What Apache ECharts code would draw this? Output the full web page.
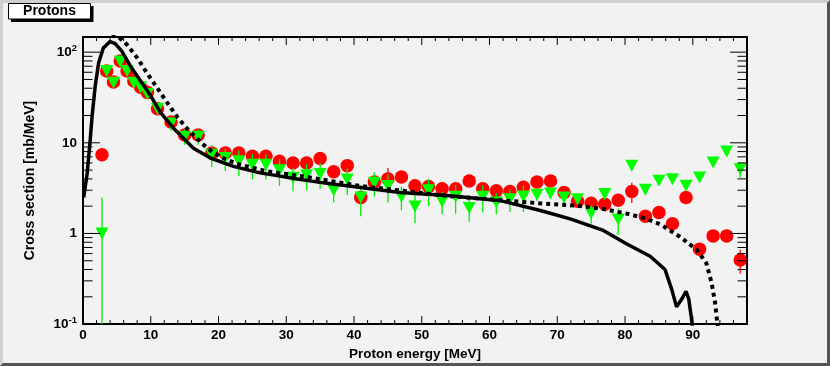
<!DOCTYPE html>
<html>
<head>
<meta charset="utf-8">
<script src="https://cdn.jsdelivr.net/npm/echarts@6.0.0/dist/echarts.min.js"></script>
<style>
  html, body { margin: 0; padding: 0; background: #f2f2f2; }
  #chart { width: 830px; height: 366px; }
</style>
</head>
<body>
<div id="chart"></div>
<script>
// energies of the measured points [MeV]
const pointX = [2.8, 3.5, 4.5, 5.5, 6.5, 7.5, 8.5, 9.5, 11, 13, 15, 17, 19, 21, 23, 25, 27, 29, 31, 33,
  35, 37, 39, 41, 43, 45, 47, 49, 51, 53, 55, 57, 59, 61, 63, 65, 67, 69, 71, 73,
  75, 77, 79, 81, 83, 85, 87, 89, 91, 93, 95, 97]

// red circles
const redY = [7.4, 62, 47, 80, 62, 48, 41, 36, 23.7, 17, 12.2, 12.2, 7.7, 7.7, 7.7, 7.1, 7.1, 6.25, 6.0, 6.0,
  6.7, 4.8, 5.6, 2.5, 3.7, 4.0, 4.2, 3.35, 3.3, 3.12, 3.12, 3.8, 3.12, 2.95, 2.9, 3.23, 3.7, 3.8, 2.83, 2.27,
  2.15, 2.1, 2.33, 2.9, 1.55, 1.7, 1.28, 2.49, 0.67, 0.94, 0.94, 0.51]
// visible red error bars
const redErrX = [45, 81, 97]
const redErrLow = [2.75, 2.17, 0.36]
const redErrHigh = [5.28, 3.63, 0.66]

// green triangles
const greenY = [1.0, 62, 46, 79, 62, 46, 41, 34.5, 23.7, 16.3, 11.7, 11.7, 7.4, 6.8, 6.25, 5.74, 5.74, 4.99, 4.11, 4.4,
  4.54, 2.99, 3.94, 2.49, 3.63, 3.34, 2.54, 1.98, 2.99, 2.25, 2.54, 1.91, 2.54, 2.2, 2.39, 2.56, 2.67, 2.76, 2.49, 2.39,
  1.67, 2.72, 1.43, 5.6, 3.03, 3.82, 3.97, 3.37, 4.15, 6.06, 8.0, 5.1]
const greenLow = [0.1, 55, 41, 71, 56, 41, 36, 30, 20, 13.5, 9.5, 9.5, 5.4, 4.9, 4.3, 3.95, 3.95, 3.35, 2.9, 3.0,
  3.1, 2.2, 2.65, 1.55, 2.55, 2.2, 1.8, 1.3, 2.0, 1.63, 1.65, 1.35, 1.7, 1.63, 1.72, 1.72, 2.3, 2.4, 2.15, 2.1,
  1.28, 2.35, 0.97, 5.0, 2.7, 3.4, 3.55, 3.0, 3.7, 5.4, 7.1, 4.14]
const greenHigh = [2.5, 69, 51, 87, 68, 51, 46, 39, 27.5, 19, 14, 14, 9.4, 8.7, 8.2, 7.5, 7.5, 6.6, 5.3, 5.8,
  6.0, 3.8, 5.2, 3.4, 4.7, 4.5, 3.3, 2.66, 4.0, 2.87, 3.4, 2.47, 3.4, 2.77, 3.06, 3.4, 3.05, 3.1, 2.85, 2.7,
  2.06, 3.1, 1.89, 6.2, 3.35, 4.25, 4.4, 3.75, 4.6, 6.7, 8.9, 6.06]

// solid calculation
const solidX = [0.1, 0.6, 1.0, 1.35, 1.8, 2.3, 3.0, 4.0, 4.75, 5.75, 7.0, 8.5, 10, 11.4, 13.4, 16.3, 18.8, 22.2,
  26.1, 29.1, 31.1, 36, 46.8, 54.2, 61.6, 67.5, 71.9, 76.8, 80.2, 83.7, 85.9, 86.9, 87.6, 88.4, 89.0, 89.4, 90.0]
const solidY = [2.5, 4.5, 9.5, 20, 42, 76, 111, 131, 124, 102, 70, 48, 33, 21.8, 14.4, 8.7, 6.8, 5.5,
  4.66, 4.29, 4.04, 3.57, 2.83, 2.6, 2.3, 1.79, 1.45, 1.08, 0.77, 0.56, 0.4, 0.24, 0.155, 0.19, 0.23, 0.19, 0.09]

// dotted calculation
const dotX = [4.2, 5.2, 6.0, 6.5, 8.0, 9.4, 10.9, 12.4, 13.9, 15.8, 17.8, 19.3, 21.2, 23.2, 27.1, 33, 40.9, 45.3,
  53.7, 67.4, 72.9, 76.8, 80.5, 83.2, 85.2, 88.1, 90.6, 92.0, 92.8, 93.3, 93.7]
const dotY = [152, 148, 131, 121, 86.5, 59.4, 40.8, 28, 19.3, 13.2, 9.5, 7.7, 6.5, 5.74, 4.86, 4.2, 3.34, 3.07,
  2.6, 2.15, 2.03, 1.86, 1.64, 1.45, 1.26, 0.92, 0.66, 0.47, 0.28, 0.17, 0.09]

// axis ticks
const xMajorTicks = [0, 10, 20, 30, 40, 50, 60, 70, 80, 90]
const xMinorTicks = [2, 4, 6, 8, 12, 14, 16, 18, 22, 24, 26, 28, 32, 34, 36, 38, 42, 44, 46, 48,
  52, 54, 56, 58, 62, 64, 66, 68, 72, 74, 76, 78, 82, 84, 86, 88, 92, 94, 96]
const yMajorTicks = [0.1, 1, 10, 100]
const yMinorTicks = [0.2, 0.3, 0.4, 0.5, 0.6, 0.7, 0.8, 0.9, 2, 3, 4, 5, 6, 7, 8, 9,
  20, 30, 40, 50, 60, 70, 80, 90]

const FONT = '"Liberation Sans", Arial, Helvetica, sans-serif'

function zip(xs, ys) {
  return xs.map((x, i) => [x, ys[i]])
}

function seg(x1, y1, x2, y2, color, w) {
  return { type: 'line', shape: { x1, y1, x2, y2 }, style: { stroke: color, lineWidth: w } }
}

// ROOT style ticks on all four sides of the frame
function tickSeries(values, dir, lenA, lenB) {
  return {
    type: 'custom',
    silent: true,
    z: 10,
    data: values.map(v => (dir === 'x' ? [v, 1] : [1, v])),
    renderItem: function (params, api) {
      const cs = params.coordSys
      if (dir === 'x') {
        const px = api.coord([api.value(0), 1])[0]
        return { type: 'group', children: [
          seg(px, cs.y + cs.height, px, cs.y + cs.height - lenA, '#000', 1),
          seg(px, cs.y, px, cs.y + lenB, '#000', 1)
        ] }
      }
      const py = api.coord([1, api.value(1)])[1]
      return { type: 'group', children: [
        seg(cs.x, py, cs.x + lenA, py, '#000', 1),
        seg(cs.x + cs.width, py, cs.x + cs.width - lenB, py, '#000', 1)
      ] }
    }
  }
}

function errorSeries(xs, lows, highs, color, z) {
  return {
    type: 'custom',
    silent: true,
    clip: true,
    z: z,
    data: xs.map((x, i) => [x, lows[i], highs[i]]),
    encode: { x: 0, y: [1, 2] },
    renderItem: function (params, api) {
      const lo = api.coord([api.value(0), api.value(1)])
      const hi = api.coord([api.value(0), api.value(2)])
      return seg(lo[0], lo[1], hi[0], hi[1], color, 1.3)
    }
  }
}

const chart = echarts.init(document.getElementById('chart'))

const option = {
  animation: false,
  backgroundColor: '#f2f2f2',
  textStyle: { fontFamily: FONT },
  grid: {
    left: 83, right: 83, top: 37, bottom: 38,
    show: true, borderColor: '#000', borderWidth: 2, backgroundColor: 'transparent'
  },
  xAxis: {
    type: 'value',
    min: 0,
    max: 98,
    interval: 10,
    axisLine: { show: false },
    axisTick: { show: false },
    splitLine: { show: false },
    axisLabel: {
      margin: 4,
      color: '#000',
      fontFamily: FONT,
      fontWeight: 'bold',
      fontSize: 13.5,
      formatter: v => (v % 10 === 0 ? String(v) : '')
    },
    name: 'Proton energy [MeV]',
    nameLocation: 'middle',
    nameGap: 16,
    nameTextStyle: { color: '#000', fontFamily: FONT, fontWeight: 'bold', fontSize: 13.5 }
  },
  yAxis: {
    type: 'log',
    logBase: 10,
    min: 0.1,
    max: 147,
    axisLine: { show: false },
    axisTick: { show: false },
    splitLine: { show: false },
    axisLabel: {
      margin: 6,
      color: '#000',
      fontFamily: FONT,
      fontWeight: 'bold',
      fontSize: 13.5,
      formatter: function (v) {
        const l = Math.log10(v)
        const e = Math.round(l)
        if (Math.abs(l - e) > 1e-6) return ''
        if (e === 0) return '1'
        if (e === 1) return '10'
        return '10{sup|' + e + '}'
      },
      rich: {
        sup: { fontSize: 9.5, fontWeight: 'bold', fontFamily: FONT, color: '#000', verticalAlign: 'top', padding: [0, 0, 7, 0] }
      }
    },
    name: 'Cross section [mb/MeV]',
    nameLocation: 'middle',
    nameGap: 46,
    nameTextStyle: { color: '#000', fontFamily: FONT, fontWeight: 'bold', fontSize: 14 }
  },
  graphic: [
    // canvas bevel
    { type: 'polygon', shape: { points: [[0, 0], [830, 0], [827, 3], [3, 3], [3, 363], [0, 366]] }, style: { fill: '#cfcfcf' } },
    { type: 'polygon', shape: { points: [[830, 0], [830, 366], [0, 366], [3, 363], [827, 363], [827, 3]] }, style: { fill: '#555' } },
    // title box
    { type: 'rect', shape: { x: 11, y: 6, width: 82.5, height: 16 }, style: { fill: '#000' } },
    { type: 'rect', shape: { x: 8.5, y: 3.5, width: 82, height: 15.5 }, style: { fill: '#fff', stroke: '#000', lineWidth: 1 } },
    { type: 'text', x: 49.5, y: 11.5, style: { text: 'Protons', fill: '#000', font: 'bold 14px ' + FONT, align: 'center', verticalAlign: 'middle' } }
  ],
  series: [
    errorSeries(redErrX, redErrLow, redErrHigh, '#ff0000', 2),
    {
      type: 'scatter',
      z: 3,
      data: zip(pointX, redY),
      symbol: 'circle',
      symbolSize: 13.5,
      itemStyle: { color: '#ff0000', opacity: 1 }
    },
    errorSeries(pointX, greenLow, greenHigh, '#00ee00', 4),
    {
      type: 'scatter',
      z: 5,
      data: zip(pointX, greenY),
      symbol: 'triangle',
      symbolRotate: 180,
      symbolSize: [13, 12],
      itemStyle: { color: '#00ff00', opacity: 1 }
    },
    {
      type: 'line',
      z: 6,
      data: zip(solidX, solidY),
      showSymbol: false,
      clip: true,
      lineStyle: { color: '#000', width: 3.5 }
    },
    {
      type: 'line',
      z: 6,
      data: zip(dotX, dotY),
      showSymbol: false,
      clip: true,
      lineStyle: { color: '#000', width: 4, type: [4, 4] }
    },
    tickSeries(xMajorTicks, 'x', 8, 8),
    tickSeries(xMinorTicks, 'x', 4, 4),
    tickSeries(yMajorTicks, 'y', 17, 17),
    tickSeries(yMinorTicks, 'y', 9.5, 9.5)
  ]
}

chart.setOption(option)
</script>
</body>
</html>
